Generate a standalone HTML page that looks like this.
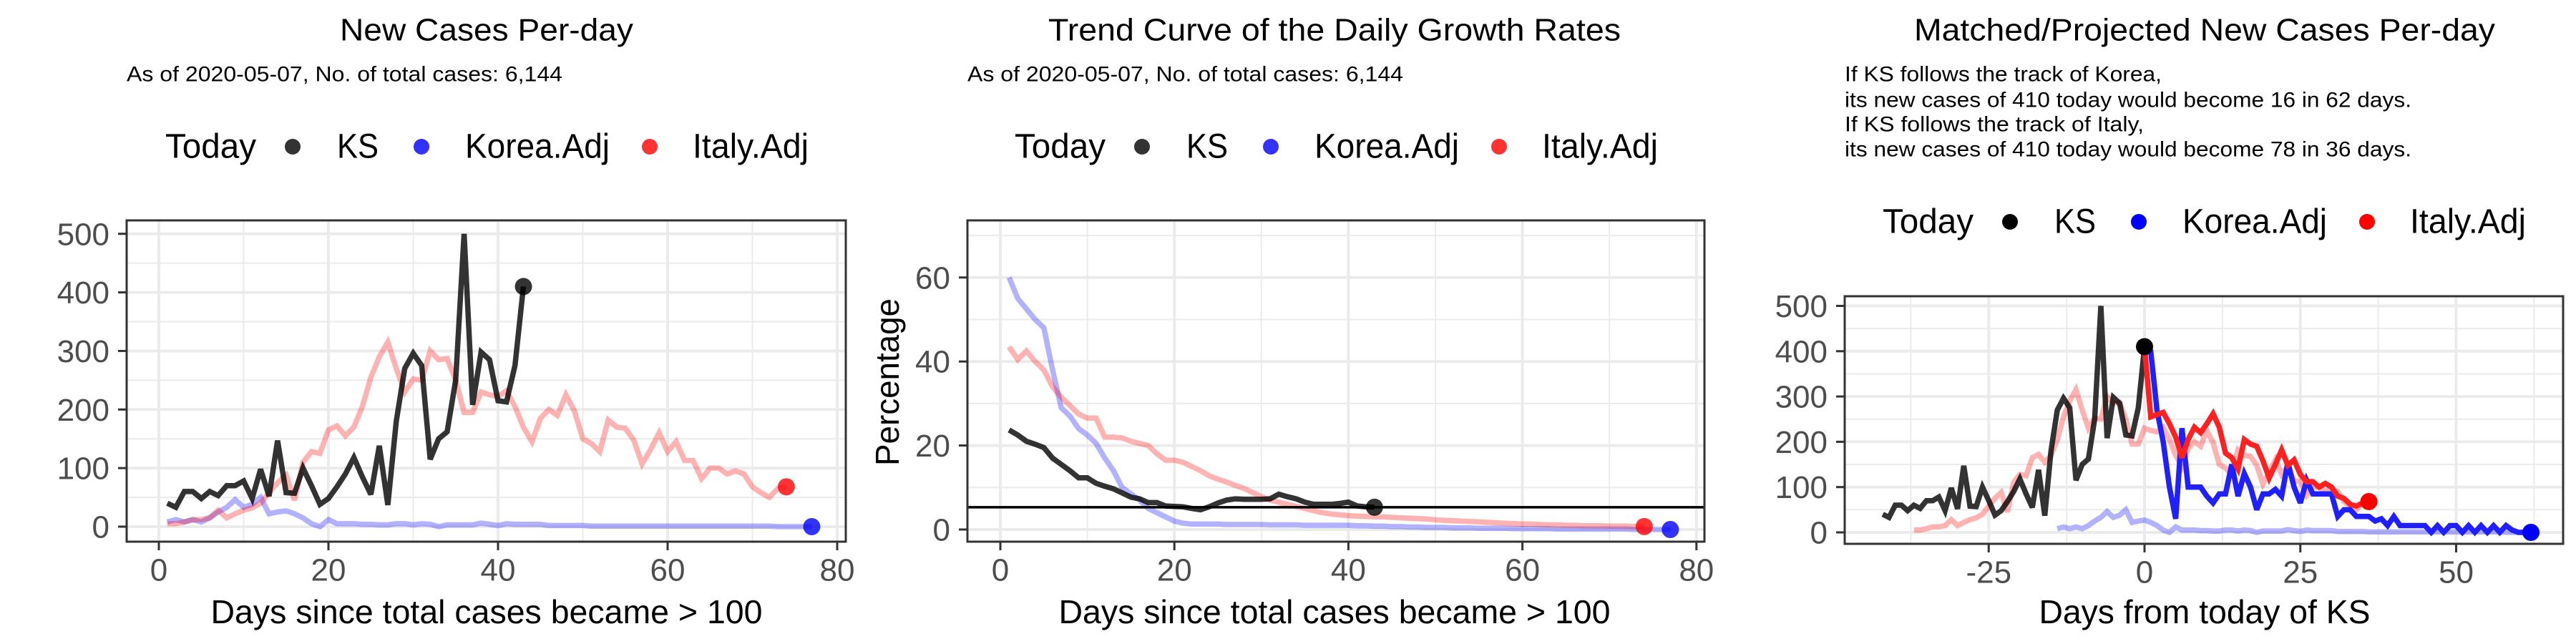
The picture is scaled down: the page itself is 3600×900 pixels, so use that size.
<!DOCTYPE html>
<html><head><meta charset="utf-8"><style>
html,body{margin:0;padding:0;background:#fff;}
svg{display:block;font-family:"Liberation Sans",Arial,sans-serif;}
</style></head><body>
<svg id="chart" width="3600" height="900" viewBox="0 0 3600 900" xmlns="http://www.w3.org/2000/svg"></svg>
<script>
// ---- data ----
const ksNew = [40,33,60,60,48,60,53,70,70,78,48,98,52,147,58,57,100,70,38,48,68,90,118,85,55,138,37,180,270,296,275,115,150,162,250,500,208,298,285,215,213,275,410];
const italyNew = [5,5,8,12,12,15,28,15,22,28,32,40,58,75,88,45,110,128,125,165,172,155,170,205,255,290,315,270,230,252,250,300,285,287,250,195,195,230,225,222,232,205,170,145,185,200,190,225,198,150,142,128,182,170,168,148,107,132,160,128,145,113,113,82,100,100,90,95,90,68,58,50,65,68];
const koreaNew = [8,12,8,12,8,15,25,33,46,33,38,50,22,25,27,22,15,5,0,12,5,5,5,4,4,3,3,5,5,3,5,4,0,3,3,3,3,6,4,2,5,4,4,4,4,2,2,2,2,2,1,1,1,1,1,1,1,1,1,1,1,1,1,1,1,1,1,1,1,1,1,1,0,0,0,0,0];
const ksRate = [23.7,22.5,21,20.3,19.5,17,15.5,14,12.3,12.3,11,10.3,9.7,8.7,7.7,7.3,6.4,6.4,5.6,5.5,5.4,5,4.7,5.4,6.3,7,7.3,7.2,7.2,7.2,7.3,8.4,7.8,7.3,6.5,6,6,6,6.2,6.5,5.6,5.4,5.3];
const koreaRate = [60,55,52.5,50,48,38,29,27,24,22.5,20.5,17,14,10,8.5,7,5,4,3,2,1.5,1.3,1.3,1.3,1.3,1.2,1.2,1.2,1.2,1.2,1.1,1.1,1.1,1.1,1,1,1,1,1,1,0.9,0.9,0.8,0.8,0.7,0.7,0.6,0.6,0.5,0.5,0.5,0.4,0.4,0.4,0.3,0.3,0.3,0.3,0.2,0.2,0.2,0.2,0.2,0.1,0.1,0.1,0.1,0.1,0.1,0.1,0.1,0.1,0,0,0,0,0];
const italyRate = [43.5,40.5,42.5,40,38,34,31.5,29.5,27.5,26.5,26.5,22,22,21.8,21,20.5,20,18,16.5,16.5,16,15,14,12.8,12,11.3,10.5,9.8,8.8,7.8,7,6.5,6,5.5,5,4.5,4,3.7,3.5,3.3,3.2,3.1,3,3,2.9,2.8,2.7,2.6,2.5,2.3,2.2,2.1,2,1.9,1.8,1.7,1.6,1.5,1.4,1.3,1.3,1.2,1.1,1.1,1,1,0.9,0.9,0.9,0.8,0.8,0.8,0.7,0.7];
const refRate = 5.3;
const italyProj = [410,255,260,265,240,210,165,205,232,220,240,262,232,175,165,140,205,195,190,158,120,150,182,148,160,128,112,112,100,108,100,80,75,62,58,65,68];
const koreaProj = [410,400,270,200,100,30,230,100,100,100,80,65,85,85,150,80,130,100,50,85,85,95,80,155,100,65,115,85,85,85,85,35,50,50,35,35,35,25,30,15,35,15,15,15,15,15,0,15,0,15,15,0,15,0,15,0,15,0,15,5,0,0,0];
const shiftKS = -43, shiftItaly = -38, shiftKorea = -15;
const xTicks1 = [0,20,40,60,80];
const yTicks1 = [0,100,200,300,400,500];
const yTicks2 = [0,20,40,60];
const xTicks3 = [-25,0,25,50];

const NS = "http://www.w3.org/2000/svg";
const svg = document.getElementById('chart');
function mk(tag, attrs, parent){
  const e = document.createElementNS(NS, tag);
  for (const k in attrs) e.setAttribute(k, attrs[k]);
  (parent||svg).appendChild(e);
  return e;
}
function txt(str, x, y, size, opts, parent){
  opts = opts||{};
  const t = mk('text', {x:x, y:y, 'font-size':size, fill:opts.fill||'#000', 'text-anchor':opts.anchor||'start', 'dominant-baseline':'central'}, parent);
  if (opts.len){ t.setAttribute('textLength', opts.len); t.setAttribute('lengthAdjust','spacingAndGlyphs'); }
  if (opts.rot) t.setAttribute('transform', 'rotate(-90 '+x+' '+y+')');
  t.textContent = str;
  return t;
}
function scales(p){
  return {
    x: v => p.x0 + (v - p.xmin) * p.xs,
    y: v => p.y0 - v * p.ys
  };
}
function frame(p, name){
  const g = mk('g', {});
  
  
  mk('rect', {x:p.L, y:p.T, width:p.R-p.L, height:p.B-p.T, fill:'#fff'}, g);
  return g;
}
function grid(p, s, g){
  for (let i=0;i<p.xMinor.length;i++){ const x=s.x(p.xMinor[i]); mk('line',{x1:x,x2:x,y1:p.T,y2:p.B,stroke:'#ebebeb','stroke-width':2},g); }
  for (let i=0;i<p.yMinor.length;i++){ const y=s.y(p.yMinor[i]); mk('line',{x1:p.L,x2:p.R,y1:y,y2:y,stroke:'#ebebeb','stroke-width':2},g); }
  for (const v of p.xt){ const x=s.x(v); mk('line',{x1:x,x2:x,y1:p.T,y2:p.B,stroke:'#ebebeb','stroke-width':4},g); }
  for (const v of p.yt){ const y=s.y(v); mk('line',{x1:p.L,x2:p.R,y1:y,y2:y,stroke:'#ebebeb','stroke-width':4},g); }
}
function axes(p, s, g){
  mk('rect', {x:p.L, y:p.T, width:p.R-p.L, height:p.B-p.T, fill:'none', stroke:'#333','stroke-width':3}, g);
  for (const v of p.yt){
    const y=s.y(v);
    mk('line',{x1:p.L-12,x2:p.L,y1:y,y2:y,stroke:'#333','stroke-width':3},g);
    const tk = txt(String(v), p.L-24, y+1, 44, {anchor:'end', fill:'#4d4d4d'}, g);
    
    
  }
  for (const v of p.xt){
    const x=s.x(v);
    mk('line',{x1:x,x2:x,y1:p.B,y2:p.B+12,stroke:'#333','stroke-width':3},g);
    const tk = txt(String(v), x, p.B+40, 44, {anchor:'middle', fill:'#4d4d4d'}, g);
    
    
  }
}
function line(vals, s, shift, color, w, name, g, start){
  start = start===undefined?1:start;
  const pts = vals.map((v,i)=> s.x(i+start+shift).toFixed(1)+','+s.y(v).toFixed(1)).join(' ');
  const pl = mk('polyline', {points:pts, fill:'none', stroke:color, 'stroke-width':w, 'stroke-linejoin':'miter','stroke-miterlimit':3,'stroke-linecap':'butt'}, g);
  
  
  return pl;
}
function dot(x, y, color, name, g){
  const c = mk('circle', {cx:x, cy:y, r:12, fill:color}, g);
  
  
}
function legend(ox, y, colors, g){
  const lg = mk('g', {}, g);
  
  
  txt('Today', ox, y, 48, {len:127}, lg);
  const ks = mk('g',{},lg);  
  mk('circle',{cx:ox+178, cy:y, r:11, fill:colors[0]}, ks);
  txt('KS', ox+240, y, 48, {len:58}, ks);
  const ko = mk('g',{},lg);  
  mk('circle',{cx:ox+358, cy:y, r:11, fill:colors[1]}, ko);
  txt('Korea.Adj', ox+419, y, 48, {len:202}, ko);
  const it = mk('g',{},lg);  
  mk('circle',{cx:ox+677, cy:y, r:11, fill:colors[2]}, it);
  txt('Italy.Adj', ox+737, y, 48, {len:162}, it);
}
const KS='rgba(0,0,0,0.8)', PINK='rgba(255,0,0,0.3)', LBLUE='rgba(0,0,255,0.3)';
const DOTK='rgba(0,0,0,0.8)', DOTB='rgba(0,0,255,0.8)', DOTR='rgba(255,0,0,0.8)';
const LW = 7.5;

// ---- Panel 1 ----
(function(){
  const p = {L:177,R:1182,T:308,B:757,x0:222,xmin:0,xs:11.85,y0:736,ys:0.8185,xt:xTicks1,yt:yTicks1,xMinor:[10,30,50,70],yMinor:[50,150,250,350,450]};
  const s = scales(p);
  const g = frame(p, 'new-cases-panel');
  const t = txt('New Cases Per-day', 680, 42, 44, {anchor:'middle', len:410}, g);
   
  const st = txt('As of 2020-05-07, No. of total cases: 6,144', 177, 104, 30, {len:609}, g);
   
  legend(231, 205, [DOTK,DOTB,DOTR], g);
  grid(p, s, g);
  line(koreaNew, s, 0, LBLUE, LW, 'korea-line', g);
  line(italyNew, s, 0, PINK, LW, 'italy-line', g);
  line(ksNew, s, 0, KS, LW, 'ks-line', g);
  dot(s.x(ksNew.length), s.y(ksNew[ksNew.length-1]), DOTK, 'ks-today-point', g);
  dot(s.x(italyNew.length), s.y(italyNew[italyNew.length-1]), DOTR, 'italy-today-point', g);
  dot(s.x(koreaNew.length), s.y(koreaNew[koreaNew.length-1]), DOTB, 'korea-today-point', g);
  axes(p, s, g);
  const xt = txt('Days since total cases became > 100', 680, 855, 46, {anchor:'middle', len:771}, g);
   
})();

// ---- Panel 2 ----
(function(){
  const p = {L:1352,R:2382,T:308,B:757,x0:1398,xmin:0,xs:12.16,y0:740,ys:5.87,xt:xTicks1,yt:yTicks2,xMinor:[10,30,50,70],yMinor:[10,30,50,70]};
  const s = scales(p);
  const g = frame(p, 'growth-rate-panel');
  const t = txt('Trend Curve of the Daily Growth Rates', 1865, 42, 44, {anchor:'middle', len:800}, g);
   
  const st = txt('As of 2020-05-07, No. of total cases: 6,144', 1352, 104, 30, {len:609}, g);
   
  legend(1418, 205, [DOTK,DOTB,DOTR], g);
  grid(p, s, g);
  line(koreaRate, s, 0, LBLUE, LW, 'korea-rate-line', g);
  line(italyRate, s, 0, PINK, LW, 'italy-rate-line', g);
  line(ksRate, s, 0, KS, LW, 'ks-rate-line', g);
  const ry = s.y(refRate);
  const rl = mk('line',{x1:p.L,x2:p.R,y1:ry,y2:ry,stroke:'#000','stroke-width':3.5},g);
   
  dot(s.x(ksRate.length), s.y(ksRate[ksRate.length-1]), DOTK, 'ks-today-point', g);
  dot(s.x(italyRate.length), s.y(italyRate[italyRate.length-1]), DOTR, 'italy-today-point', g);
  dot(s.x(koreaRate.length), s.y(koreaRate[koreaRate.length-1]), DOTB, 'korea-today-point', g);
  axes(p, s, g);
  const xt = txt('Days since total cases became > 100', 1865, 855, 46, {anchor:'middle', len:771}, g);
   
  const yt = txt('Percentage', 1240, 534, 46, {anchor:'middle', rot:true, len:234}, g);
   
})();

// ---- Panel 3 ----
(function(){
  const p = {L:2578,R:3582,T:414,B:760,x0:2997,xmin:0,xs:8.71,y0:744,ys:0.633,xt:xTicks3,yt:yTicks1,xMinor:[-37.5,-12.5,12.5,37.5,62.5],yMinor:[50,150,250,350,450]};
  const s = scales(p);
  const g = frame(p, 'projection-panel');
  const t = txt('Matched/Projected New Cases Per-day', 3081, 42, 44, {anchor:'middle', len:812}, g);
   
  const lines = [['If KS follows the track of Korea,',443],['its new cases of 410 today would become 16 in 62 days.',792],['If KS follows the track of Italy,',418],['its new cases of 410 today would become 78 in 36 days.',792]];
  const ys = [104,140,174,209];
  lines.forEach((l,i)=>{ const e = txt(l[0], 2578, ys[i], 30, {len:l[1]}, g);   });
  legend(2631, 310, ['#000','#0000ff','#ff0000'], g);
  grid(p, s, g);
  line(koreaNew, s, shiftKorea, LBLUE, LW, 'korea-matched-line', g);
  line(italyNew, s, shiftItaly, PINK, LW, 'italy-matched-line', g);
  line(ksNew, s, shiftKS, KS, LW, 'ks-line', g);
  line(koreaProj, s, 0, '#2020ff', LW, 'korea-projection-line', g, 0);
  line(italyProj, s, 0, '#ff2020', LW, 'italy-projection-line', g, 0);
  dot(s.x(0), s.y(ksNew[ksNew.length-1]), '#000', 'ks-today-point', g);
  dot(s.x(italyProj.length-1), s.y(italyProj[italyProj.length-1]), '#ff0000', 'italy-end-point', g);
  dot(s.x(koreaProj.length-1), s.y(koreaProj[koreaProj.length-1]), '#0000ff', 'korea-end-point', g);
  axes(p, s, g);
  const xt = txt('Days from today of KS', 3081, 855, 46, {anchor:'middle', len:463}, g);
   
})();
</script>
</body></html>
